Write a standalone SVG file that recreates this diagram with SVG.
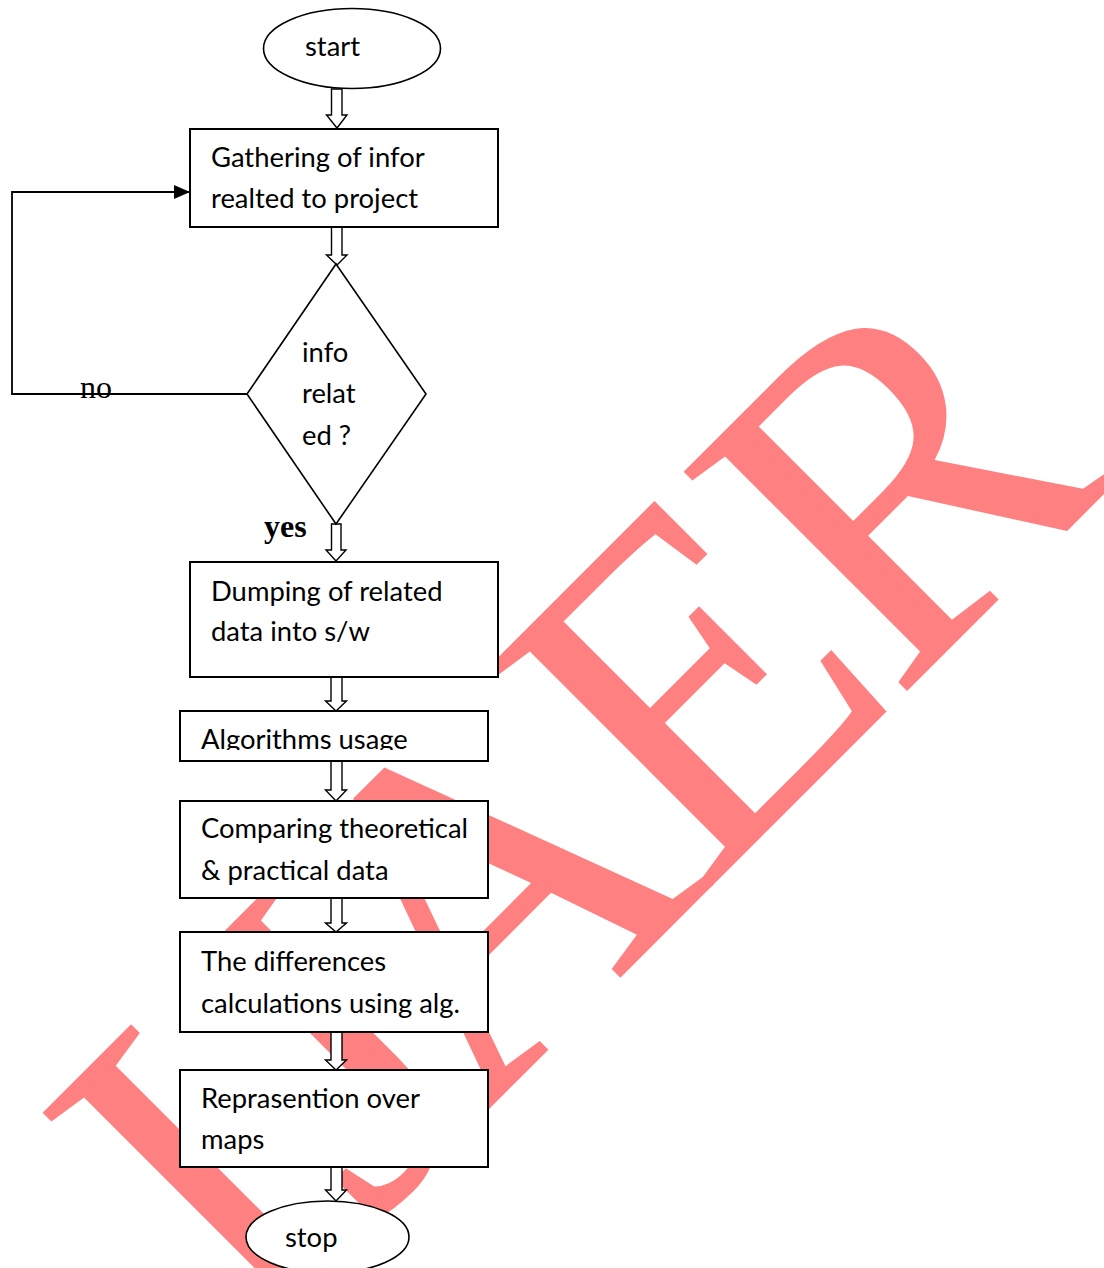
<svg xmlns="http://www.w3.org/2000/svg" width="1104" height="1268" viewBox="0 0 1104 1268">
  <style>
    .box { fill: #ffffff; stroke: #000000; stroke-width: 2; }
    .shape { fill: #ffffff; stroke: #000000; stroke-width: 1.6; }
    .barrow { fill: #ffffff; stroke: #000000; stroke-width: 1.4; stroke-linejoin: miter; }
    .lbl { font-family: Lato, "Open Sans", sans-serif; font-size: 27.4px; fill: #000000; }
    .serif { font-family: "Liberation Serif", "Times New Roman", serif; font-size: 32px; fill: #000000; }
    .wm { font-family: "Liberation Serif", "Times New Roman", serif; font-size: 478px; fill: #ff8080; }
  </style>
  <defs>
    <marker id="solid" viewBox="0 0 16 14" refX="16" refY="7" markerWidth="16" markerHeight="14" markerUnits="userSpaceOnUse" orient="auto">
      <path d="M0,0 L16,7 L0,14 Z" fill="#000000"/>
    </marker>
    <clipPath id="clipAlg">
      <rect x="180" y="700" width="310" height="50"/>
    </clipPath>
  </defs>

  <rect x="0" y="0" width="1104" height="1268" fill="#ffffff"/>

  <g id="watermark">
    <text class="wm" transform="rotate(-45)" y="1130" x="-774 -607 -462 -140 136">IJAER</text>
  </g>

  <g id="connectors">
    <polyline points="247,394 12,394 12,192 190,192" fill="none" stroke="#000000" stroke-width="1.8" marker-end="url(#solid)"/>
    <polygon class="barrow" points="331.5,89 342,89 342,115 347,115 337,128 326.5,115 331.5,115"/>
    <polygon class="barrow" points="331.5,227 342,227 342,255 347,255 337,265 326.5,255 331.5,255"/>
    <polygon class="barrow" points="331.5,524 341,524 341,550 346,550 336,561 326,550 331.5,550"/>
    <polygon class="barrow" points="331,677 342,677 342,701 346.5,701 336,711 325.5,701 331,701"/>
    <polygon class="barrow" points="331,761 342,761 342,790 346.5,790 336,801 325.5,790 331,790"/>
    <polygon class="barrow" points="331,898 342,898 342,923 346.5,923 336,932 325.5,923 331,923"/>
    <polygon class="barrow" points="331,1032 342,1032 342,1060 346.5,1060 336,1070 325.5,1060 331,1060"/>
    <polygon class="barrow" points="331,1167 342,1167 342,1190 346.5,1190 336,1201 325.5,1190 331,1190"/>
    <text class="serif" x="80" y="398">no</text>
    <text class="serif" x="264" y="537" font-weight="bold">yes</text>
  </g>

  <g id="start">
    <ellipse class="shape" cx="352" cy="48.5" rx="88.5" ry="40"/>
    <text class="lbl" x="305" y="56">start</text>
  </g>

  <g id="gather">
    <rect class="box" x="190" y="129" width="308" height="98"/>
    <text class="lbl" x="211" y="167">Gathering of infor</text>
    <text class="lbl" x="211" y="208">realted to project</text>
  </g>

  <g id="decision">
    <polygon class="shape" points="336,264 426,394 336,524 247,394"/>
    <text class="lbl" x="302" y="362">info</text>
    <text class="lbl" x="302" y="403">relat</text>
    <text class="lbl" x="302" y="445">ed ?</text>
  </g>

  <g id="dumping">
    <rect class="box" x="190" y="562" width="308" height="115"/>
    <text class="lbl" x="211" y="601">Dumping of related</text>
    <text class="lbl" x="211" y="641">data into s/w</text>
  </g>

  <g id="algorithms">
    <rect class="box" x="180" y="711" width="308" height="50"/>
    <text class="lbl" x="201" y="749" clip-path="url(#clipAlg)">Algorithms usage</text>
  </g>

  <g id="comparing">
    <rect class="box" x="180" y="801" width="308" height="97"/>
    <text class="lbl" x="201" y="838">Comparing theoretical</text>
    <text class="lbl" x="201" y="880">&amp; practical data</text>
  </g>

  <g id="differences">
    <rect class="box" x="180" y="932" width="308" height="100"/>
    <text class="lbl" x="201" y="971">The differences</text>
    <text class="lbl" x="201" y="1013">calculations using alg.</text>
  </g>

  <g id="representation">
    <rect class="box" x="180" y="1070" width="308" height="97"/>
    <text class="lbl" x="201" y="1108">Reprasention over</text>
    <text class="lbl" x="201" y="1149">maps</text>
  </g>

  <g id="stop">
    <ellipse class="shape" cx="327.5" cy="1237" rx="81.5" ry="36"/>
    <text class="lbl" x="285" y="1247">stop</text>
  </g>
</svg>
